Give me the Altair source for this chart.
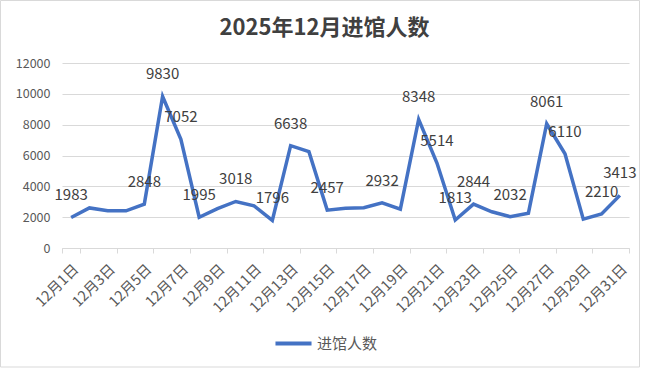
import altair as alt
import pandas as pd

days = [f"12月{d}日" for d in range(1, 32)]
values = [1983, 2600, 2420, 2410, 2848, 9830, 7052, 1995, 2550, 3018,
          2740, 1796, 6638, 6250, 2457, 2580, 2610, 2932, 2520, 8348,
          5514, 1813, 2844, 2350, 2032, 2260, 8061, 6110, 1870, 2210, 3413]
labeled_days = [1, 5, 6, 7, 8, 10, 12, 13, 15, 18, 20, 21, 22, 23, 25, 27, 28, 30, 31]
tick_days = [f"12月{d}日" for d in range(1, 32, 2)]
series_name = "进馆人数"

df = pd.DataFrame({
    "day": days,
    "value": values,
    "series": [series_name] * len(days),
    "show": [(i + 1) in labeled_days for i in range(len(days))],
})

FONT = "Noto Sans CJK SC"

x = alt.X("day:O", sort=days,
          scale=alt.Scale(type="band", paddingInner=0, paddingOuter=0),
          axis=alt.Axis(title=None, values=tick_days, labelAngle=-45,
                        tickBand="extent", tickSize=5, tickColor="#d9d9d9",
                        domainColor="#d9d9d9", labelColor="#595959",
                        labelFontSize=14.5, labelFont=FONT, labelPadding=9,
                        grid=False))
y = alt.Y("value:Q", scale=alt.Scale(domain=[0, 12000]),
          axis=alt.Axis(title=None, values=list(range(0, 12001, 2000)),
                        format="d",
                        ticks=False, domain=False, gridColor="#d9d9d9",
                        labelColor="#595959", labelFontSize=12.5, labelFont=FONT,
                        labelPadding=12))

line = alt.Chart(df).mark_line(strokeWidth=3.5).encode(
    x=x, y=y,
    color=alt.Color("series:N", scale=alt.Scale(range=["#4472C4"]),
                    legend=alt.Legend(title=None, orient="none", legendX=211,
                                      legendY=260, symbolType="stroke",
                                      symbolSize=1300, symbolStrokeWidth=4,
                                      labelFont=FONT, labelFontSize=15,
                                      labelColor="#595959", labelOffset=3)),
)

labels = alt.Chart(df).transform_filter("datum.show").mark_text(
    dy=-22, fontSize=15, font=FONT, color="#404040", baseline="middle"
).encode(x=x, y=y, text=alt.Text("value:Q", format="d"))

border = alt.Chart(alt.Data(values=[{}])).mark_rect(
    fill=None, stroke="#d9d9d9", strokeWidth=1
).encode(x=alt.value(-61.5), x2=alt.value(577.5), y=alt.value(-62.5), y2=alt.value(304))

chart = alt.layer(border, line, labels).properties(
    width=567, height=185,
    title=alt.TitleParams("2025年12月进馆人数", fontSize=22, font=FONT,
                          fontWeight="bold", color="#404040", anchor="middle",
                          dx=-21, offset=-40),
    autosize=alt.AutoSizeParams(type="none"),
    padding={"left": 62, "top": 63, "right": 19, "bottom": 120},
    background="white",
).configure_view(stroke=None)

chart.save("out.html", embed_options={"renderer": "svg", "actions": False})
